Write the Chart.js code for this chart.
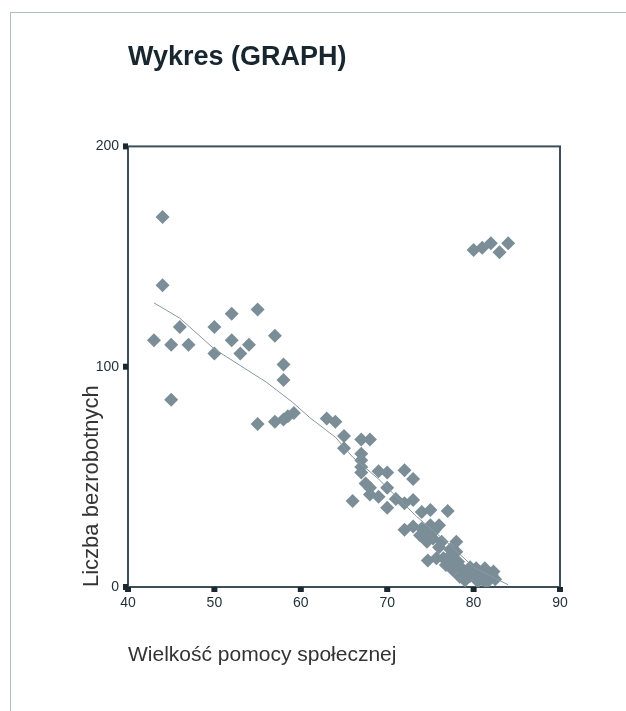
<!DOCTYPE html>
<html>
<head>
<meta charset="utf-8">
<script src="https://cdn.jsdelivr.net/npm/chart.js@4.4.0/dist/chart.umd.min.js"></script>
<style>
  html, body { margin: 0; padding: 0; background: #fff; }
  #wrap { position: relative; width: 626px; height: 711px; overflow: hidden; }
  #frame { position: absolute; left: 10px; top: 12px; right: -2px; bottom: -2px;
           border-top: 1px solid #aebcc4; border-left: 1px solid #aebcc4; }
  canvas { position: absolute; left: 0; top: 0; }
</style>
</head>
<body>
<div id="wrap">
  <div id="frame"></div>
  <canvas id="chart" width="626" height="711"></canvas>
</div>
<script>
// values
const pomoc = [43, 44, 44, 45, 45, 46, 47, 50, 50, 52, 52, 53, 54, 55, 55, 57, 57, 58, 58, 58, 58.5, 59.2,
  63, 64, 65, 65, 66, 67, 68, 67, 67, 67, 67, 67.5, 68, 68, 69, 70, 69, 70, 70, 71, 72, 73, 72, 73, 74, 75, 77,
  72, 73, 74, 75, 76, 73.8, 74.6, 75.3, 74.6, 75.3, 76.3, 78, 77.3, 78, 74.7, 75.7, 76.5, 77.5, 78.2,
  77.6, 78.6, 79.6, 80.3, 81.3, 82.3, 78.4, 79.6, 80.5, 81.5, 82.1, 81, 79,
  74.5, 75.5, 76, 79, 80.5, 81.5, 82.5, 76.8, 77.2,
  80, 81, 82, 83, 84];
const bezrobotni = [112, 168, 137, 110, 85, 118, 110, 118, 106, 124, 112, 106, 110, 126, 74, 114, 75, 101, 94, 76, 77.5, 79,
  76.5, 75, 68.5, 63, 39, 67, 67, 60.5, 57.5, 54.5, 52, 47, 45, 42, 52.5, 52, 41, 45, 36, 40, 53, 49, 38, 39.5, 34, 35, 34.5,
  26, 27.5, 26.5, 28, 28, 23.5, 24.5, 25, 20.5, 22, 20.5, 20.5, 17, 16, 12, 13, 13, 11.5, 11.5,
  7.7, 8.5, 9, 8.5, 8.5, 7, 4.7, 5, 5.4, 4.7, 5.4, 3.5, 3,
  22, 26, 18, 6, 2.5, 2, 3.5, 10, 14,
  153, 154, 156, 152, 156];

// fit line
const fitX = [43, 46, 50, 56, 59, 61, 64, 66, 69, 73.4, 77, 80, 84];
const fitY = [129, 122, 108, 93, 84, 77, 68, 59, 49, 32, 20, 9, 1];

const xMin = 40, xMax = 90, xStep = 10;
const yMin = 0, yMax = 200, yStep = 100;

const pointColor = '#7b8e97';
const axisColor = '#3e4e58';
const textColor = '#1e2d36';

const frameAndTicks = {
  id: 'frameAndTicks',
  beforeDatasetsDraw(chart) {
    const { ctx, chartArea: a, scales } = chart;
    ctx.save();
    ctx.strokeStyle = axisColor;
    ctx.lineWidth = 2;
    ctx.strokeRect(a.left, a.top, a.right - a.left, a.bottom - a.top);
    ctx.fillStyle = '#1b2830';
    scales.x.ticks.forEach(t => {
      const px = scales.x.getPixelForValue(t.value);
      ctx.fillRect(px - 3, a.bottom, 6, 5);
    });
    scales.y.ticks.forEach(t => {
      const py = scales.y.getPixelForValue(t.value);
      ctx.fillRect(a.left - 5, py - 3, 5, 6);
    });
    ctx.restore();
  }
};

new Chart(document.getElementById('chart'), {
  type: 'scatter',
  data: {
    datasets: [
      {
        label: 'Liczba bezrobotnych',
        data: pomoc.map((x, i) => ({ x: x, y: bezrobotni[i] })),
        pointStyle: 'rectRot',
        pointRadius: 7,
        backgroundColor: pointColor,
        borderColor: pointColor,
        borderWidth: 0,
        order: 1
      },
      {
        type: 'line',
        label: 'fit',
        data: fitX.map((x, i) => ({ x: x, y: fitY[i] })),
        borderColor: '#8799a1',
        borderWidth: 1,
        pointRadius: 0,
        fill: false,
        tension: 0,
        order: 0
      }
    ]
  },
  options: {
    responsive: false,
    animation: false,
    layout: { padding: { top: 0, left: 0, right: 66, bottom: 14 } },
    plugins: {
      legend: { display: false },
      tooltip: { enabled: false },
      title: {
        display: true,
        text: 'Wykres (GRAPH)',
        align: 'start',
        fullSize: false,
        color: '#17262f',
        font: { family: 'Liberation Sans', size: 27, weight: 'bold' },
        padding: { top: 41, bottom: 73 }
      }
    },
    scales: {
      x: {
        type: 'linear',
        min: xMin, max: xMax,
        ticks: { stepSize: xStep, color: textColor, padding: 0,
                 font: { family: 'Liberation Sans', size: 14 } },
        grid: { display: false },
        border: { display: false },
        title: { display: true, text: 'Wielkość pomocy społecznej', align: 'start',
                 color: '#333', font: { family: 'Liberation Sans', size: 21 },
                 padding: { top: 0, bottom: 29 } },
        afterFit(scale) { scale.height = 110; }
      },
      y: {
        type: 'linear',
        min: yMin, max: yMax,
        ticks: { stepSize: yStep, color: textColor, padding: 1,
                 font: { family: 'Liberation Sans', size: 14 } },
        grid: { display: false },
        border: { display: false },
        title: { display: true, text: 'Liczba bezrobotnych', align: 'start',
                 color: '#333', font: { family: 'Liberation Sans', size: 22 },
                 padding: { top: 79, bottom: 0 } },
        afterFit(scale) { scale.width = 128; }
      }
    }
  },
  plugins: [frameAndTicks]
});
</script>
</body>
</html>
